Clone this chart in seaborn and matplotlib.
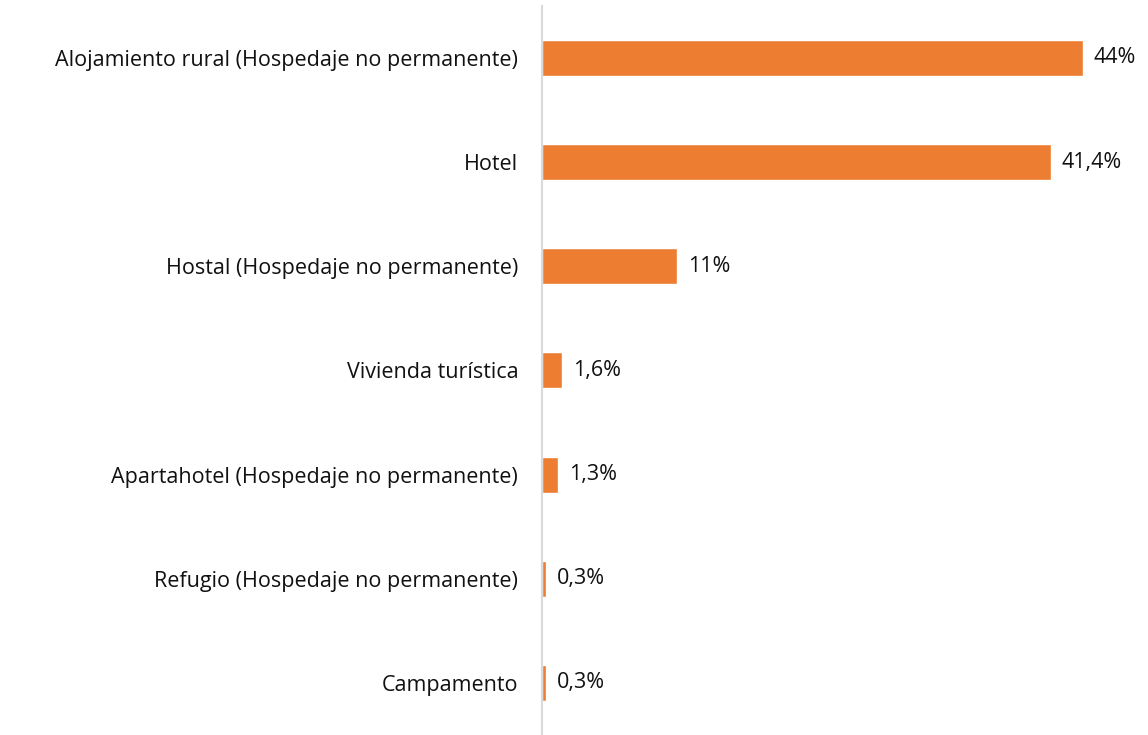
import matplotlib
matplotlib.use("Agg")
import matplotlib.pyplot as plt
import seaborn as sns
import pandas as pd

sns.set_style("white")
plt.rcParams['font.family'] = ['Open Sans', 'DejaVu Sans']

categorias = ["Alojamiento rural (Hospedaje no permanente)", "Hotel",
              "Hostal (Hospedaje no permanente)", "Vivienda turística",
              "Apartahotel (Hospedaje no permanente)",
              "Refugio (Hospedaje no permanente)", "Campamento"]
valores = [44, 41.4, 11, 1.6, 1.3, 0.3, 0.3]
etiquetas = ["44%", "41,4%", "11%", "1,6%", "1,3%", "0,3%", "0,3%"]

df = pd.DataFrame({"cat": categorias, "val": valores})

fig = plt.figure(figsize=(11.48, 7.35), dpi=100)
ax = fig.add_axes([0.472, 0.0, 0.514, 0.992])
sns.barplot(data=df, x="val", y="cat", color="#ED7D31", width=0.345,
            saturation=1, ax=ax)

for i, (v, t) in enumerate(zip(valores, etiquetas)):
    ax.annotate(t, (v, i), xytext=(8, 0), textcoords="offset points",
                va="center", ha="left", fontsize=15.5, color="#111111")

ax.set_xlim(0, 48)
ax.set_ylim(6.5, -0.5)
ax.set_xlabel("")
ax.set_ylabel("")
ax.set_xticks([])
ax.tick_params(axis="y", length=0, pad=17, labelsize=15.5, labelcolor="#111111")
for s in ["top", "right", "bottom"]:
    ax.spines[s].set_visible(False)
ax.spines["left"].set_color("#D9D9D9")
ax.spines["left"].set_linewidth(1.5)

plt.savefig("out.png", dpi=100)
